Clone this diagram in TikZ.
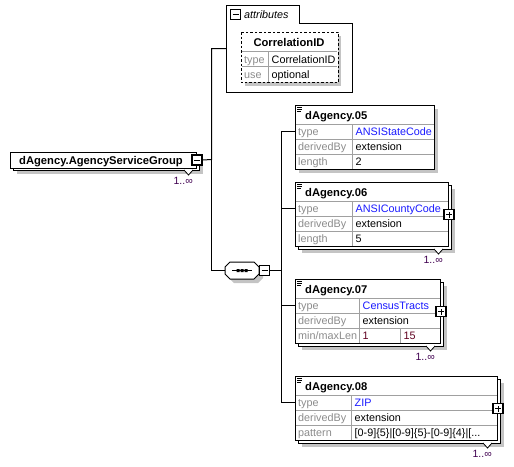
\documentclass[tikz,border=0pt]{standalone}
\usepackage{fontspec}
\setmainfont{Liberation Sans}
\definecolor{shade}{HTML}{C4C4C4}
\definecolor{gridc}{HTML}{A0A0A0}
\definecolor{labc}{HTML}{8C8C8C}
\definecolor{typeblue}{HTML}{1A1AFF}
\definecolor{multc}{HTML}{400050}
\definecolor{facetc}{HTML}{600020}
\tikzset{
  boxline/.style={draw=black, line width=1pt},
  gridline/.style={draw=gridc, line width=0.8pt},
  shadowfill/.style={fill=shade, draw=none},
  titletext/.style={font=\fontsize{11.2}{13}\selectfont\bfseries, inner sep=0pt, anchor=base west},
  labtext/.style={font=\fontsize{10.8}{12}\selectfont, text=labc, inner sep=0pt, anchor=base west},
  valtext/.style={font=\fontsize{10.8}{12}\selectfont, inner sep=0pt, anchor=base west},
  bluetext/.style={valtext, text=typeblue},
  facettext/.style={valtext, text=facetc},
  multtext/.style={font=\fontsize{10.5}{12}\selectfont, text=multc, inner sep=0pt, anchor=base east},
  frontbox/.style={draw, fill=white, line width=1pt, inner sep=0pt, anchor=north west},
  toggle/.style={draw, fill=white, line width=1.2pt, minimum size=10pt, inner sep=0pt},
  conn/.style={line width=1pt},
}
% #1 id, #2 x, #3 y, #4 w, #5 stacked (0/1), #6 title
\newcommand\elemframe[6]{%
  \ifnum#5=1
    \fill[shadowfill] (#2+7,#3+7) rectangle (#2+#4+7,#3+71);
    \draw[boxline,fill=white] (#2+3,#3+3) rectangle (#2+#4+3,#3+67);
  \else
    \fill[shadowfill] (#2+4,#3+4) rectangle (#2+#4+4,#3+68);
  \fi
  \node[frontbox, minimum width=#4pt, minimum height=64pt] (#1) at (#2,#3) {};
  \draw[gridline] (#2+0.5,#3+19) -- (#2+#4-0.5,#3+19)
                  (#2+0.5,#3+34) -- (#2+#4-0.5,#3+34)
                  (#2+0.5,#3+49) -- (#2+#4-0.5,#3+49);
  \draw[line width=0.6pt] (#2+2,#3+2.5) -- (#2+7,#3+2.5)
                          (#2+2,#3+4.5) -- (#2+7,#3+4.5)
                          (#2+2,#3+6.5) -- (#2+6,#3+6.5);
  \node[titletext] (#1title) at (#2+10,#3+14) {#6};
}
% #1 x right of back box, #2 y bottom of back box
\newcommand\multnotch[2]{%
  \draw[fill=white, line width=0.8pt] (#1-17,#2) -- (#1-12.5,#2+5) -- (#1-8,#2);
  \node[multtext] at (#1-8,#2+14) {1..∞};
}
\newcommand\plusmark[1]{%
  \draw[line width=0.9pt] ([xshift=-3pt]#1.center) -- ([xshift=3pt]#1.center)
                          ([yshift=-3pt]#1.center) -- ([yshift=3pt]#1.center);
}
\newcommand\minusmark[1]{%
  \draw[line width=0.9pt] ([xshift=-3pt]#1.center) -- ([xshift=3pt]#1.center);
}
\begin{document}
\begin{tikzpicture}[x=1pt,y=-1pt]
\useasboundingbox (0,0) rectangle (514,466);

% ---------- main element ----------
\fill[shadowfill] (17,158) rectangle (203,174);
\draw[boxline, fill=white] (13,154) rectangle (199,170);
\node[frontbox, minimum width=186pt, minimum height=16pt] (main) at (10,151.5) {};
\node[titletext] (maintitle) at (19,164) {dAgency.AgencyServiceGroup};
\node[toggle] (mainminus) at (main.east) {};
\minusmark{mainminus}
\multnotch{201}{170}

% ---------- attributes ----------
\node[minimum width=126pt, minimum height=87pt, inner sep=0pt, anchor=north west] (attr) at (226.5,5) {};
\draw[boxline, fill=white] (226.5,92.5) -- (226.5,5.5) -- (299.5,5.5) -- (299.5,23.5) -- (352.5,23.5) -- (352.5,92.5) -- cycle;
\node[toggle, line width=1pt] (attrminus) at (235.5,14.5) {};
\minusmark{attrminus}
\node[font=\fontsize{10.8}{12}\selectfont\itshape, inner sep=0pt, anchor=base west] (attrtitle) at (244,18) {attributes};
\fill[shadowfill] (245,36) rectangle (341,85.5);
\node[frontbox, draw=none, minimum width=96pt, minimum height=49.5pt] (corr) at (241,32) {};
\draw[gridline] (241.5,51.5) -- (336.5,51.5) (241.5,66.5) -- (336.5,66.5) (268,51.5) -- (268,81.5);
\draw[dashed, line width=0.9pt, dash pattern=on 2.5pt off 2pt] (corr.north west) rectangle (corr.south east);
\node[titletext, anchor=base] (corrtitle) at (289,46.5) {CorrelationID};
\node[labtext] (corrtypel) at (244,63) {type};
\node[valtext] (corrtypev) at (271.5,63) {CorrelationID};
\node[labtext] (corrusel) at (244,78) {use};
\node[valtext] (corrusev) at (271.5,78) {optional};

% ---------- sequence compositor ----------
\node[minimum width=34pt, minimum height=17pt, inner sep=0pt] (seq) at (242,270.5) {};
\fill[shadowfill] (234,266) -- (258,266) -- (263,271) -- (263,278) -- (258,283) -- (234,283) -- (229,278) -- (229,271) -- cycle;
\draw[boxline, fill=white] (230,262) -- (254,262) -- (259,267) -- (259,274) -- (254,279) -- (230,279) -- (225,274) -- (225,267) -- cycle;
\draw[line width=0.8pt] (232,270.5) -- (252,270.5);
\fill (236.5,269) rectangle (239.5,272) (240.5,269) rectangle (243.5,272) (244.5,269) rectangle (247.5,272);
\node[toggle, anchor=west] (seqminus) at (259,270.5) {};
\minusmark{seqminus}

% ---------- dAgency.05 ----------
\elemframe{e05}{295}{105}{139}{0}{dAgency.05}
\draw[gridline] (352,124) -- (352,168.5);
\node[labtext] at (298,135.5) {type};
\node[bluetext] at (355.5,135.5) {ANSIStateCode};
\node[labtext] at (298,150.5) {derivedBy};
\node[valtext] at (355.5,150.5) {extension};
\node[labtext] at (298,165.5) {length};
\node[valtext] at (355.5,165.5) {2};

% ---------- dAgency.06 ----------
\elemframe{e06}{295}{182}{153}{1}{dAgency.06}
\draw[gridline] (352,201) -- (352,245.5);
\node[labtext] at (298,212.5) {type};
\node[bluetext] at (355.5,212.5) {ANSICountyCode};
\node[labtext] at (298,227.5) {derivedBy};
\node[valtext] at (355.5,227.5) {extension};
\node[labtext] at (298,242.5) {length};
\node[valtext] at (355.5,242.5) {5};
\node[toggle] (e06plus) at (e06.east) {};
\plusmark{e06plus}
\multnotch{451}{249}

% ---------- dAgency.07 ----------
\elemframe{e07}{295}{279}{145}{1}{dAgency.07}
\draw[gridline] (359,298) -- (359,342.5) (400,328) -- (400,342.5);
\node[labtext] at (298,309.5) {type};
\node[bluetext] at (362.5,309.5) {CensusTracts};
\node[labtext] at (298,324.5) {derivedBy};
\node[valtext] at (362.5,324.5) {extension};
\node[labtext] at (298,339.5) {min/maxLen};
\node[facettext] at (362.5,339.5) {1};
\node[facettext] at (403.5,339.5) {15};
\node[toggle] (e07plus) at (e07.east) {};
\plusmark{e07plus}
\multnotch{443}{346}

% ---------- dAgency.08 ----------
\elemframe{e08}{295}{376}{202}{1}{dAgency.08}
\draw[gridline] (351,395) -- (351,439.5);
\node[labtext] at (298,406.5) {type};
\node[bluetext] at (354.5,406.5) {ZIP};
\node[labtext] at (298,421.5) {derivedBy};
\node[valtext] at (354.5,421.5) {extension};
\node[labtext] at (298,436.5) {pattern};
\node[valtext] at (354.5,436.5) {[0-9]\{5\}|[0-9]\{5\}-[0-9]\{4\}|[...};
\node[toggle] (e08plus) at (e08.east) {};
\plusmark{e08plus}
\multnotch{500}{443}

% ---------- connectors ----------
\coordinate (j1) at (211.5,159.5);
\coordinate (j2) at (281.5,270.5);
\draw[conn] (mainminus.east) -- (j1) |- (attr.west);
\draw[conn] (j1) |- (seq.west);
\draw[conn] (seqminus.east) -- (j2);
\draw[conn] (j2) |- ([yshift=-26.5pt]e05.north west);
\draw[conn] (j2) |- ([yshift=-26.5pt]e06.north west);
\draw[conn] (j2) |- ([yshift=-26.5pt]e07.north west);
\draw[conn] (j2) |- ([yshift=-26.5pt]e08.north west);
\end{tikzpicture}
\end{document}
